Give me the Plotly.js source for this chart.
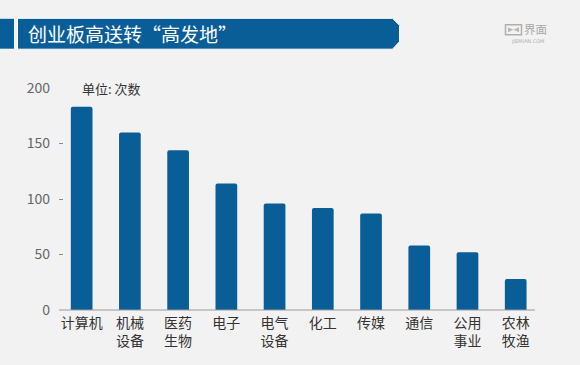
<!DOCTYPE html>
<html><head><meta charset="utf-8">
<script src="https://cdn.plot.ly/plotly-3.0.1.min.js"></script>
<style>body{margin:0;background:#f2f2f2}#c{width:580px;height:365px}</style>
</head><body><div id="c"></div>
<script>
const categories = ["计算机","机械<br>设备","医药<br>生物","电子","电气<br>设备","化工","传媒","通信","公用<br>事业","农林<br>牧渔"];
const counts = [183, 160, 144, 114, 96, 92, 87, 58, 52, 28];
const yTickVals = [0, 50, 100, 150, 200];
const titleText = "创业板高送转“高发地”";
const unitText = "单位: 次数";

const W = 580, H = 365, L = 59, R = 45, T = 87.5, B = 54.5;
const pw = W - L - R, ph = H - T - B;
const px = x => (x - L) / pw;
const py = y => (H - B - y) / ph;
const blue = "#0a5e98";
const font = "Noto Sans CJK SC, Noto Sans, sans-serif";

function path(pts){ return "M" + pts.map(p => px(p[0]).toFixed(5) + "," + py(p[1]).toFixed(5)).join(" L") + " Z"; }

const shapes = [
  {type:"path", xref:"paper", yref:"paper", path: path([[0,18],[14,18],[14,48],[0,48]]), fillcolor: blue, line:{width:0}, layer:"above"},
  {type:"path", xref:"paper", yref:"paper", path: path([[17.5,17.5],[392.5,17.5],[399.5,24.5],[399.5,41],[392.5,48.5],[17.5,48.5]]), fillcolor: blue, line:{width:1, color:"#ffffff"}, layer:"above"},
  {type:"rect", xref:"paper", yref:"paper", x0:px(505.5), x1:px(521.5), y0:py(24), y1:py(34), line:{color:"#b0b0b0", width:1.5}, fillcolor:"rgba(0,0,0,0)"},
  {type:"path", xref:"paper", yref:"paper", path: path([[508,26.5],[513.5,29],[519,26.5],[519,31.5],[513.5,29],[508,31.5]]), fillcolor:"#b8b8b8", line:{width:0}},
  {type:"line", xref:"paper", yref:"paper", x0:0, x1:1, y0:py(310.5), y1:py(310.5), line:{color:"#9a9a9a", width:1}}
];

const annotations = [
  {xref:"paper", yref:"paper", x:px(26), y:py(33), xanchor:"left", yanchor:"middle", text:titleText, showarrow:false, font:{family:font, size:19, color:"#ffffff"}},
  {xref:"paper", yref:"paper", x:px(80), y:py(88), xanchor:"left", yanchor:"middle", text:unitText, showarrow:false, font:{family:font, size:13, color:"#333333"}},
  {xref:"paper", yref:"paper", x:px(523), y:py(28.5), xanchor:"left", yanchor:"middle", text:"界面", showarrow:false, borderpad:0, font:{family:font, size:11.5, color:"#a8a8a8"}},
  {xref:"paper", yref:"paper", x:px(527), y:py(40.5), xanchor:"center", yanchor:"middle", text:"JIEMIAN.COM", showarrow:false, borderpad:0, font:{family:"DejaVu Sans", size:5, color:"#b0b0b0"}}
];

Plotly.newPlot("c", [{
  type:"bar", x:categories, y:counts, width:0.45,
  marker:{color:blue, cornerradius:2, line:{width:0}},
  hoverinfo:"none"
}], {
  width:W, height:H, paper_bgcolor:"#f2f2f2", plot_bgcolor:"#f2f2f2",
  margin:{l:L, r:R, t:T, b:B, pad:0},
  showlegend:false,
  xaxis:{range:[-0.47, 9.4], showgrid:false, zeroline:false, showline:false, ticks:"", ticklabelstandoff:3,
         tickfont:{family:font, size:14, color:"#333333"}, fixedrange:true},
  yaxis:{range:[0,200], tickvals:yTickVals, ticks:"inside", ticklen:4, tickcolor:"#888888", tickwidth:1,
         showgrid:false, zeroline:false, showline:false, ticklabelstandoff:8,
         tickfont:{family:font, size:14, color:"#666666"}, fixedrange:true},
  shapes:shapes, annotations:annotations
}, {displayModeBar:false, staticPlot:true});
</script></body></html>
